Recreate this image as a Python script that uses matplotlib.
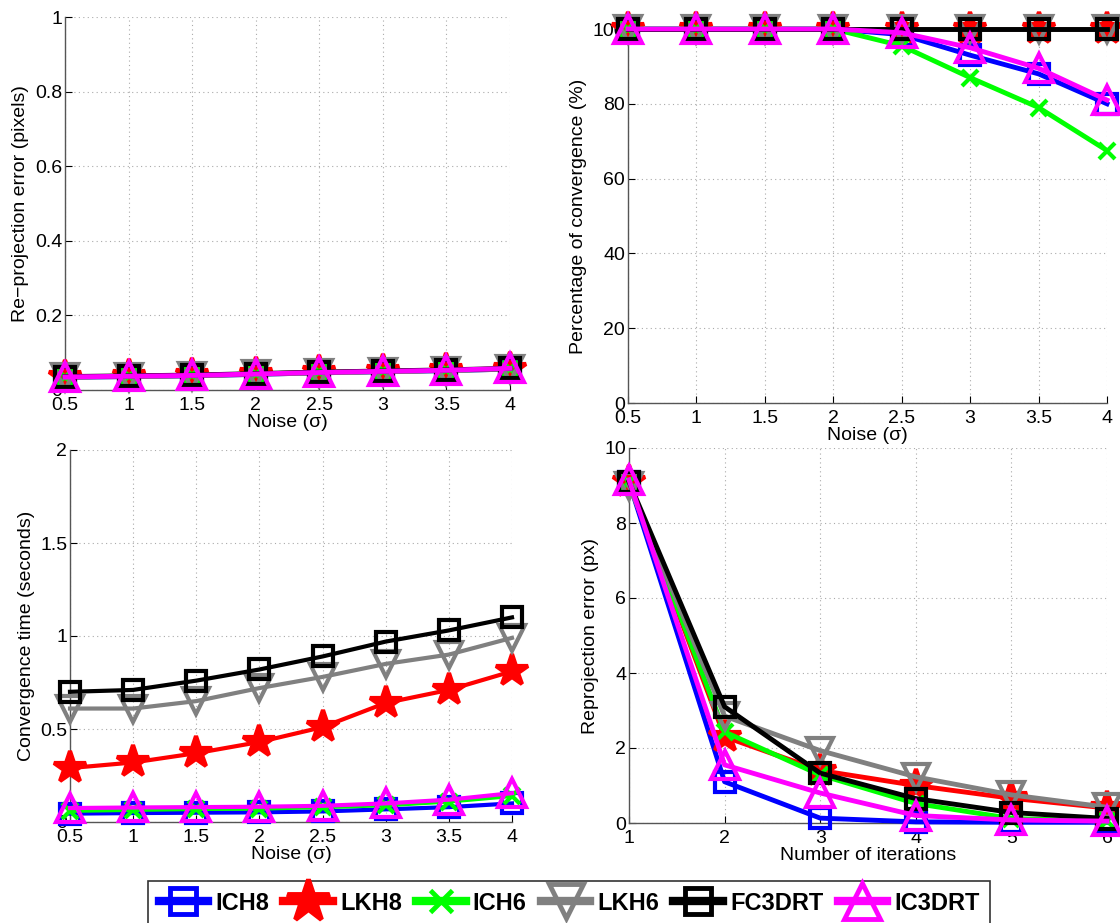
import matplotlib
matplotlib.use("Agg")
import matplotlib.pyplot as plt
from matplotlib.lines import Line2D

plt.rcParams['font.family'] = ['Liberation Sans', 'DejaVu Sans']

# data
methods = ['ICH8', 'LKH8', 'ICH6', 'LKH6', 'FC3DRT', 'IC3DRT']
noise = [0.5, 1, 1.5, 2, 2.5, 3, 3.5, 4]
iters = [1, 2, 3, 4, 5, 6]

reproj_noise = {
    'ICH8':   [0.034, 0.036, 0.038, 0.042, 0.046, 0.049, 0.052, 0.056],
    'LKH8':   [0.035, 0.037, 0.039, 0.043, 0.047, 0.050, 0.053, 0.057],
    'ICH6':   [0.035, 0.037, 0.039, 0.043, 0.047, 0.050, 0.053, 0.057],
    'LKH6':   [0.034, 0.036, 0.038, 0.042, 0.046, 0.049, 0.052, 0.056],
    'FC3DRT': [0.036, 0.038, 0.040, 0.044, 0.048, 0.051, 0.054, 0.058],
    'IC3DRT': [0.035, 0.037, 0.039, 0.043, 0.047, 0.050, 0.053, 0.058],
}
converg_pct = {
    'ICH8':   [100, 100, 100, 100, 98.5, 93, 88, 80],
    'LKH8':   [100, 100, 100, 100, 100, 100, 100, 100],
    'ICH6':   [100, 100, 100, 100, 95.5, 87, 79, 67.5],
    'LKH6':   [100, 100, 100, 100, 100, 100, 100, 100],
    'FC3DRT': [100, 100, 100, 100, 100, 100, 100, 100],
    'IC3DRT': [100, 100, 100, 100, 99, 95, 89.5, 81],
}
converg_time = {
    'ICH8':   [0.045, 0.048, 0.050, 0.052, 0.057, 0.068, 0.080, 0.100],
    'LKH8':   [0.29, 0.32, 0.37, 0.43, 0.51, 0.64, 0.71, 0.81],
    'ICH6':   [0.060, 0.065, 0.070, 0.072, 0.080, 0.090, 0.110, 0.140],
    'LKH6':   [0.61, 0.61, 0.65, 0.72, 0.78, 0.85, 0.90, 0.99],
    'FC3DRT': [0.70, 0.71, 0.76, 0.82, 0.89, 0.97, 1.03, 1.10],
    'IC3DRT': [0.075, 0.078, 0.080, 0.082, 0.087, 0.100, 0.120, 0.155],
}
reproj_iter = {
    'ICH8':   [9.1, 1.1, 0.13, 0.03, 0.02, 0.02],
    'LKH8':   [9.1, 2.3, 1.4, 1.0, 0.66, 0.40],
    'ICH6':   [9.1, 2.43, 1.28, 0.52, 0.12, 0.05],
    'LKH6':   [9.0, 2.85, 1.93, 1.23, 0.75, 0.42],
    'FC3DRT': [9.1, 3.1, 1.33, 0.65, 0.28, 0.12],
    'IC3DRT': [9.15, 1.55, 0.80, 0.20, 0.08, 0.05],
}

styles = {
    'ICH8':   dict(color='#0000ff', marker='s', ms=14, mfc='none'),
    'LKH8':   dict(color='#ff0000', marker='*', ms=24, mfc='#ff0000'),
    'ICH6':   dict(color='#00ff00', marker='x', ms=12, mfc='none'),
    'LKH6':   dict(color='#808080', marker='v', ms=19, mfc='none'),
    'FC3DRT': dict(color='#000000', marker='s', ms=14, mfc='none'),
    'IC3DRT': dict(color='#ff00ff', marker='^', ms=20, mfc='none'),
}

fig = plt.figure(figsize=(11.2, 9.23), dpi=100)


def px_axes(left, right, top, bottom):
    W, H = 1120.0, 923.0
    return fig.add_axes([left / W, 1 - bottom / H, (right - left) / W, (bottom - top) / H])


def setup(ax, xlim, xticks, ylim, yticks, ylabels, xlabel, ylabel):
    ax.set_xlim(xlim)
    ax.set_ylim(ylim)
    ax.set_xticks(xticks)
    ax.set_xticklabels([('%g' % t) for t in xticks])
    ax.set_yticks(yticks)
    ax.set_yticklabels(ylabels)
    ax.grid(True, linestyle=(0, (1, 3)), color='#aaaaaa', linewidth=0.8)
    ax.tick_params(direction='in', length=5, labelsize=14, colors='#000000')
    ax.tick_params(axis='x', pad=5)
    ax.tick_params(axis='y', pad=2)
    for s in ['top', 'right']:
        ax.spines[s].set_visible(False)
    for s in ['left', 'bottom']:
        ax.spines[s].set_color('#555555')
        ax.spines[s].set_linewidth(1.0)
    ax.set_xlabel(xlabel, fontsize=14, labelpad=0)
    ax.set_ylabel(ylabel, fontsize=14, labelpad=4)


def draw(ax, x, data, lw=3.5):
    for m in methods:
        st = styles[m]
        ax.plot(x, data[m], color=st['color'], marker=st['marker'], ms=st['ms'],
                mfc=st['mfc'], mec=st['color'], mew=3, lw=lw, clip_on=False, zorder=3)


ax1 = px_axes(65, 510, 17, 390)
draw(ax1, noise, reproj_noise)
setup(ax1, (0.5, 4), noise, (0, 1), [0, 0.2, 0.4, 0.6, 0.8, 1],
      ['0', '0.2', '0.4', '0.6', '0.8', '1'], 'Noise (σ)', 'Re\u2212projection error (pixels)')

ax2 = px_axes(628, 1107, 29, 403)
draw(ax2, noise, converg_pct)
setup(ax2, (0.5, 4), noise, (0, 100), [0, 20, 40, 60, 80, 100],
      ['0', '20', '40', '60', '80', '100'], 'Noise (σ)', 'Percentage of convergence (%)')

ax3 = px_axes(70, 512, 450, 822)
draw(ax3, noise, converg_time, lw=3)
setup(ax3, (0.5, 4), noise, (0, 2), [0, 0.5, 1, 1.5, 2],
      ['0', '0.5', '1', '1.5', '2'], 'Noise (σ)', 'Convergence time (seconds)')

ax4 = px_axes(629, 1107, 448, 823)
draw(ax4, iters, reproj_iter)
setup(ax4, (1, 6), iters, (0, 10), [0, 2, 4, 6, 8, 10],
      ['0', '2', '4', '6', '8', '10'], 'Number of iterations', 'Reprojection error (px)')

handles = []
for m in methods:
    st = styles[m]
    handles.append(Line2D([], [], color=st['color'], marker=st['marker'], ms=st['ms'] * 1.3,
                          mfc=st['mfc'], mec=st['color'], mew=3.5, lw=6))
leg = fig.legend(handles, methods, loc='center left', bbox_to_anchor=(148 / 1120, 1 - 903 / 923),
                 ncol=6, frameon=True, fancybox=False, handlelength=2.1,
                 handletextpad=0.3, columnspacing=0.6, borderpad=0.45, borderaxespad=0,
                 prop={'family': ['Liberation Sans'], 'weight': 'bold', 'size': 17})
leg.get_frame().set_edgecolor('#000000')
leg.get_frame().set_linewidth(1.2)

fig.savefig('out.png', dpi=100)
